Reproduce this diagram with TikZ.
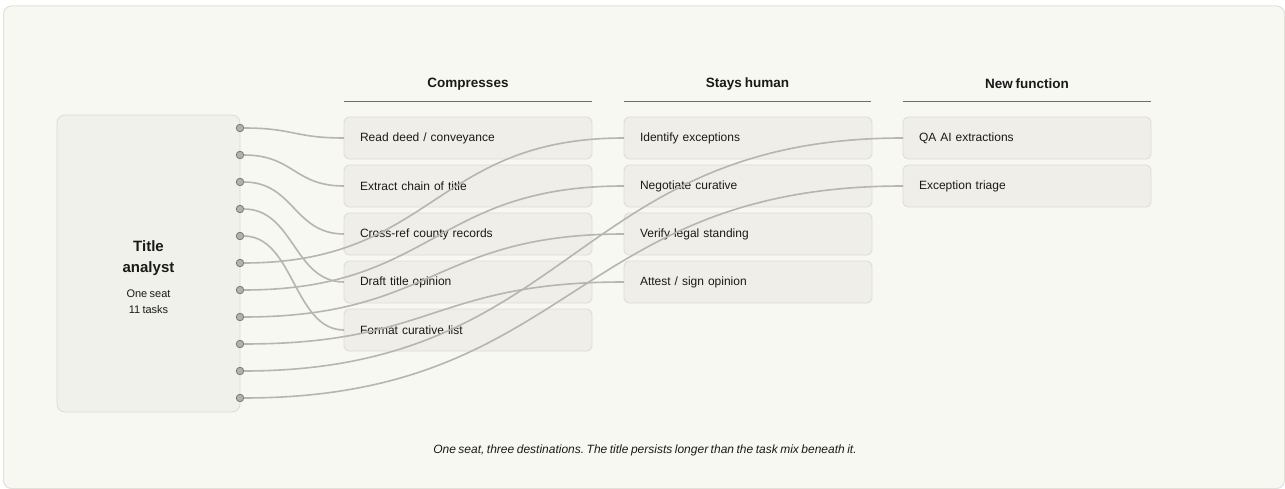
\documentclass[tikz,border=0pt]{standalone}
\usepackage{fontspec}
\setmainfont{Liberation Sans}[WordSpace=0.75]
\usetikzlibrary{calc}

\definecolor{paper}{HTML}{F8F8F3}
\definecolor{framecol}{HTML}{E2E0D8}
\definecolor{boxfill}{HTML}{EFEEE9}
\definecolor{seatfill}{HTML}{F1F1EC}
\definecolor{boxline}{HTML}{DDDBD3}
\definecolor{wire}{HTML}{B6B5AE}
\definecolor{ink}{HTML}{1A1A18}
\definecolor{rulecol}{HTML}{6E6D68}
\definecolor{portfill}{HTML}{B3B2AA}
\definecolor{portline}{HTML}{7A7974}

\tikzset{
  task/.style={draw=boxline, fill=boxfill, rounded corners=5pt, line width=0.8pt,
    minimum height=42pt, text width=216pt, inner xsep=16pt, inner ysep=0pt,
    align=left, anchor=north west, outer sep=0pt, text=ink,
    font=\fontsize{12}{14}\selectfont},
  head/.style={font=\fontsize{13.5}{15}\selectfont\bfseries, text=ink},
  colrule/.style={draw=rulecol, line width=1.2pt},
  port/.style={circle, draw=portline, fill=portfill, line width=0.8pt,
    inner sep=0pt, minimum size=7.5pt, outer sep=0pt},
  link/.style={draw=wire, line width=1.6pt},
}

\begin{document}
\begin{tikzpicture}[x=1pt,y=-1pt]
  % page and frame
  \fill[white] (0,0) rectangle (1285,489);
  \draw[framecol, fill=paper, rounded corners=8pt, line width=1pt] (3.5,6) rectangle (1284.5,488.5);

  % the seat
  \node[draw=boxline, fill=seatfill, rounded corners=8pt, line width=0.8pt,
    minimum width=183pt, minimum height=297pt, anchor=north west, outer sep=0pt] (seat) at (57,115) {};
  \node[align=center, text=ink, font=\fontsize{15}{21}\selectfont\bfseries] (role) at (148.5,258.5) {Title\\analyst};
  \node[align=center, text=ink, font=\fontsize{11}{16}\selectfont] (count) at (148.5,302) {One seat\\11 tasks};

  % column heads
  \node[head] (hc) at (468,84) {Compresses};
  \node[head] (hh) at (747.5,84) {Stays human};
  \node[head] (hn) at (1027,84) {New function};
  \draw[colrule] (344,101.5) -- (592,101.5);
  \draw[colrule] (624,101.5) -- (871,101.5);
  \draw[colrule] (903,101.5) -- (1151,101.5);

  % tasks
  \node[task] (c1) at (344,117) {Read deed / conveyance};
  \node[task] (c2) at (344,165) {Extract chain of title};
  \node[task] (c3) at (344,213) {Cross-ref county records};
  \node[task] (c4) at (344,261) {Draft title opinion};
  \node[task] (c5) at (344,309) {Format curative list};
  \node[task] (h1) at (624,117) {Identify exceptions};
  \node[task] (h2) at (624,165) {Negotiate curative};
  \node[task] (h3) at (624,213) {Verify legal standing};
  \node[task] (h4) at (624,261) {Attest / sign opinion};
  \node[task] (n1) at (903,117) {QA AI extractions};
  \node[task] (n2) at (903,165) {Exception triage};

  % ports
  \foreach \i in {1,...,11}
    \node[port] (p\i) at (240,{128+27*(\i-1)}) {};

  % links
  \foreach \a/\b in {p1/c1,p2/c2,p3/c3,p4/c4,p5/c5,p6/h1,p7/h2,p8/h3,p9/h4,p10/n1,p11/n2}
    \draw[link] let \p1=(\a.east), \p2=(\b.west), \n1={(\x2-\x1)/2} in
      (\p1) .. controls +(\n1,0pt) and +(-\n1,0pt) .. (\p2);

  \node[text=ink, font=\fontsize{12}{14}\selectfont\itshape\frenchspacing] (note) at (645,450)
    {One seat, three destinations. The title persists longer than the task mix beneath it.};
\end{tikzpicture}
\end{document}
